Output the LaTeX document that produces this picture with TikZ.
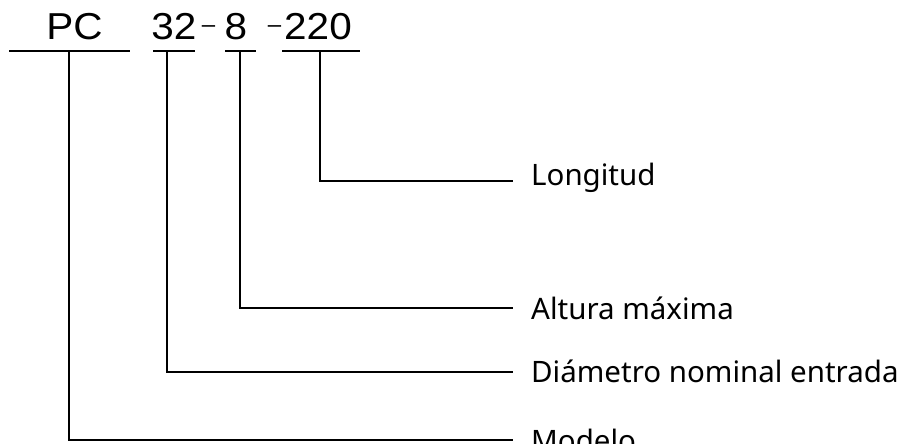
\documentclass[tikz,border=0pt]{standalone}
\usepackage{fontspec}
\setmainfont{Noto Sans}
\newfontfamily\topfont[FakeStretch=1.08]{Liberation Sans}
\newfontfamily\dashfont{Liberation Sans}
\begin{document}
\begin{tikzpicture}[x=1pt,y=1pt,
  toptext/.style={inner sep=0pt, anchor=base, font=\topfont\fontsize{37.5}{40}\selectfont},
  dashtext/.style={inner sep=0pt, anchor=mid, font=\dashfont\fontsize{24}{26}\selectfont},
  labtext/.style={inner sep=0pt, anchor=base west, font=\fontsize{29.5}{32}\selectfont},
  bar/.style={line width=2.9pt},
  conn/.style={line width=2.9pt}]
\useasboundingbox (0,0) rectangle (899,444);
% top code
\node[toptext] (pc) at (74.5,404) {PC};
\node[toptext] (n32) at (174,404) {32};
\node[dashtext] (d1) at (208.5,414) {–};
\node[toptext] (n8) at (236,404) {8};
\node[dashtext] (d2) at (274.5,414) {–};
\node[toptext] (n220) at (318,404) {220};
% bars
\coordinate (pcL) at (9,393);   \coordinate (pcR) at (130,393);
\coordinate (aL) at (153,393);  \coordinate (aR) at (195,393);
\coordinate (bL) at (225,393);  \coordinate (bR) at (256,393);
\coordinate (cL) at (282,393);  \coordinate (cR) at (360,393);
\draw[bar] (pcL) -- (pcR);
\draw[bar] (aL) -- (aR);
\draw[bar] (bL) -- (bR);
\draw[bar] (cL) -- (cR);
% labels
\node[labtext] (lon) at (531,258) {Longitud};
\node[labtext] (alt) at (531,124) {Altura máxima};
\node[labtext] (dia) at (531,61) {Diámetro nominal entrada};
\node[labtext] (mod) at (531,-8) {Modelo};
% stems
\coordinate (cS) at (320,393); \coordinate (cE) at (513,263);
\coordinate (bS) at (240,393); \coordinate (bE) at (513,136);
\coordinate (aS) at (167,393); \coordinate (aE) at (513,72);
\coordinate (pS) at (69,393);  \coordinate (pE) at (513,4);
\draw[conn] (cS) |- (cE);
\draw[conn] (bS) |- (bE);
\draw[conn] (aS) |- (aE);
\draw[conn] (pS) |- (pE);
\end{tikzpicture}
\end{document}
